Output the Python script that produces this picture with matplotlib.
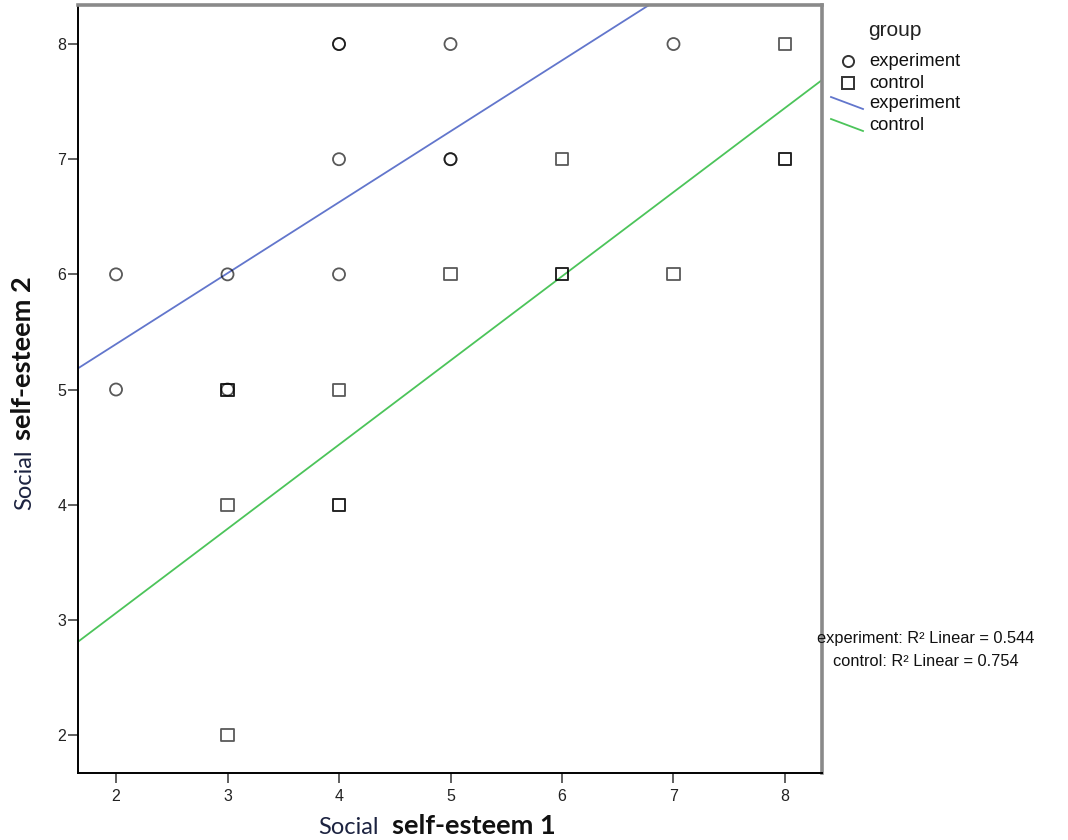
import numpy as np
import matplotlib
matplotlib.use("Agg")
import matplotlib.pyplot as plt
from matplotlib.lines import Line2D

# ---- data ----
exp_x = [2, 2, 3, 3, 4, 4, 4, 4, 5, 5, 5, 7]
exp_y = [6, 5, 6, 5, 8, 8, 7, 6, 8, 7, 7, 8]
ctl_x = [3, 3, 3, 3, 4, 4, 4, 5, 6, 6, 6, 7, 8, 8, 8]
ctl_y = [5, 5, 4, 2, 5, 4, 4, 6, 7, 6, 6, 6, 8, 7, 7]
# fitted lines (intercept, slope)
exp_fit = (4.162, 0.616)
ctl_fit = (1.597, 0.731)
r2_exp = 0.544
r2_ctl = 0.754
ticks = [2, 3, 4, 5, 6, 7, 8]

plt.rcParams['font.family'] = ['Liberation Sans', 'DejaVu Sans']

W, H = 1068, 840
fig = plt.figure(figsize=(W / 100, H / 100), dpi=100)
ax = fig.add_axes([78 / W, 1 - 773 / H, (822 - 78) / W, (773 - 5) / H])

xlim = (1.659, 8.332)
ylim = (1.67, 8.339)
ax.set_xlim(*xlim)
ax.set_ylim(*ylim)

blue = "#6276cc"
green = "#4cc45a"

ax.scatter(exp_x, exp_y, s=75, marker="o", facecolors="none",
           edgecolors="black", linewidths=1.3, alpha=0.65, zorder=3)
ax.scatter(ctl_x, ctl_y, s=75, marker="s", facecolors="none",
           edgecolors="black", linewidths=1.3, alpha=0.65, zorder=3)

xs = np.array(xlim)
ax.plot(xs, exp_fit[0] + exp_fit[1] * xs, color=blue, lw=1.3, zorder=2)
ax.plot(xs, ctl_fit[0] + ctl_fit[1] * xs, color=green, lw=1.3, zorder=2)

ax.set_xticks(ticks)
ax.set_yticks(ticks)
ax.tick_params(direction="out", length=7.5, width=1.2, color="#444444",
               labelsize=11.5, labelcolor="#222222")
ax.tick_params(axis="x", pad=4)
ax.tick_params(axis="y", pad=1)
for side in ("left", "bottom"):
    ax.spines[side].set_color("black")
    ax.spines[side].set_linewidth(1.4)
for side in ("top", "right"):
    ax.spines[side].set_color("#8a8a8a")
    ax.spines[side].set_linewidth(2.6)

# axis labels (regular "Social" + bold rest)
lab_col = "#1c2340"
lf = ['Lato', 'DejaVu Sans']
fig.text(318 / W, 1 - 834 / H, "Social", fontsize=17, color=lab_col,
         ha="left", va="baseline", family=lf)
fig.text(392 / W, 1 - 834 / H, "self-esteem 1", fontsize=19.5,
         fontweight="bold", color="#111111", ha="left", va="baseline",
         family=lf)
fig.text(31 / W, 1 - 510 / H, "Social", fontsize=17, color=lab_col,
         rotation=90, rotation_mode="anchor", ha="left", va="baseline",
         family=lf)
fig.text(31 / W, 1 - 440 / H, "self-esteem 2", fontsize=19.5,
         fontweight="bold", color="#111111", rotation=90,
         rotation_mode="anchor", ha="left", va="baseline", family=lf)

# legend drawn manually
fs = 13.2
fig.text(868 / W, 1 - 30 / H, "group", fontsize=15, color="#222222",
         ha="left", va="center")
fig.add_artist(Line2D([848 / W], [1 - 61 / H], marker="o", markersize=8,
                      markerfacecolor="none", markeredgecolor="#333333",
                      markeredgewidth=1.4, transform=fig.transFigure))
fig.add_artist(Line2D([848 / W], [1 - 83 / H], marker="s", markersize=8,
                      markerfacecolor="none", markeredgecolor="#333333",
                      markeredgewidth=1.4, transform=fig.transFigure))
fig.text(869 / W, 1 - 61 / H, "experiment", fontsize=fs, color="#111111",
         ha="left", va="center")
fig.text(869 / W, 1 - 83 / H, "control", fontsize=fs, color="#111111",
         ha="left", va="center")
fig.add_artist(Line2D([831 / W, 863 / W], [1 - 97 / H, 1 - 109 / H],
                      color=blue, lw=1.3, transform=fig.transFigure))
fig.add_artist(Line2D([831 / W, 863 / W], [1 - 119 / H, 1 - 131 / H],
                      color=green, lw=1.3, transform=fig.transFigure))
fig.text(869 / W, 1 - 104 / H, "experiment", fontsize=fs, color="#111111",
         ha="left", va="center")
fig.text(869 / W, 1 - 126 / H, "control", fontsize=fs, color="#111111",
         ha="left", va="center")

# R² annotations
fig.text(926 / W, 1 - 638 / H, f"experiment: R² Linear = {r2_exp:.3f}",
         fontsize=11.8, color="#111111", ha="center", va="center")
fig.text(926 / W, 1 - 661 / H, f"control: R² Linear = {r2_ctl:.3f}",
         fontsize=11.8, color="#111111", ha="center", va="center")

fig.savefig("out.png", dpi=100)
